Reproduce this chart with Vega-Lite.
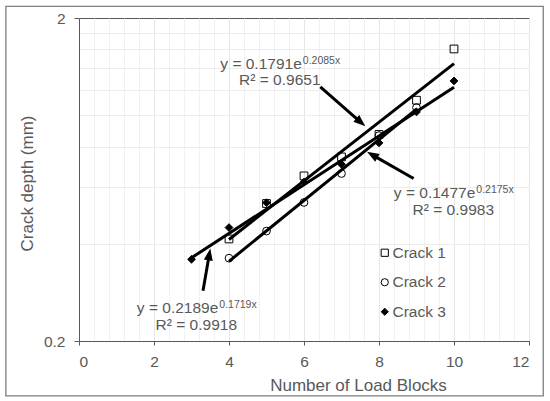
{
  "$schema": "https://vega.github.io/schema/vega-lite/v6.json",
  "width": 450,
  "height": 323,
  "autosize": {"type": "none"},
  "padding": {"left": 79, "top": 18, "right": 21, "bottom": 60},
  "background": "white",
  "config": {
    "font": "Liberation Sans",
    "view": {"stroke": "#595959", "strokeWidth": 1},
    "legend": {
      "orient": "none",
      "legendX": 298,
      "legendY": 227,
      "padding": 0,
      "labelFontSize": 15.5,
      "labelColor": "#595959",
      "labelFont": "Liberation Sans",
      "symbolSize": 52,
      "symbolStrokeWidth": 1,
      "rowPadding": 12.5,
      "labelOffset": 0,
      "title": null
    }
  },
  "datasets": {
    "points": [
      {"series": "Crack 1", "x": 4, "y": 0.414},
      {"series": "Crack 1", "x": 5, "y": 0.533},
      {"series": "Crack 1", "x": 6, "y": 0.649},
      {"series": "Crack 1", "x": 7, "y": 0.743},
      {"series": "Crack 1", "x": 8, "y": 0.872},
      {"series": "Crack 1", "x": 9, "y": 1.113},
      {"series": "Crack 1", "x": 10, "y": 1.604},
      {"series": "Crack 2", "x": 4, "y": 0.361},
      {"series": "Crack 2", "x": 5, "y": 0.438},
      {"series": "Crack 2", "x": 6, "y": 0.537},
      {"series": "Crack 2", "x": 7, "y": 0.66},
      {"series": "Crack 2", "x": 8, "y": 0.865},
      {"series": "Crack 2", "x": 9, "y": 1.056},
      {"series": "Crack 3", "x": 3, "y": 0.358},
      {"series": "Crack 3", "x": 4, "y": 0.449},
      {"series": "Crack 3", "x": 5, "y": 0.536},
      {"series": "Crack 3", "x": 6, "y": 0.621},
      {"series": "Crack 3", "x": 7, "y": 0.705},
      {"series": "Crack 3", "x": 8, "y": 0.821},
      {"series": "Crack 3", "x": 9, "y": 1.024},
      {"series": "Crack 3", "x": 10, "y": 1.277}
    ],
    "trend": [
      {"series": "Crack 1", "x": 4, "y": 0.4125},
      {"series": "Crack 1", "x": 10, "y": 1.445},
      {"series": "Crack 2", "x": 4, "y": 0.353},
      {"series": "Crack 2", "x": 9, "y": 1.044},
      {"series": "Crack 3", "x": 3, "y": 0.362},
      {"series": "Crack 3", "x": 10, "y": 1.22}
    ],
    "arrows": [
      {"id": "a1", "x": 6.435, "y": 1.223, "hx": 7.515, "hy": 0.951},
      {"id": "a2", "x": 8.923, "y": 0.637, "hx": 7.819, "hy": 0.754},
      {"id": "a3", "x": 3.307, "y": 0.286, "hx": 3.475, "hy": 0.371}
    ],
    "labels": [
      {"part": "base", "x": 5.941, "y": 1.395, "text": "y = 0.1791e"},
      {"part": "sup", "x": 5.941, "y": 1.395, "text": "0.2085x"},
      {"part": "r2", "x": 5.355, "y": 1.238, "text": "R² = 0.9651"},
      {"part": "base", "x": 10.568, "y": 0.5527, "text": "y = 0.1477e"},
      {"part": "sup", "x": 10.568, "y": 0.5527, "text": "0.2175x"},
      {"part": "r2", "x": 9.981, "y": 0.4905, "text": "R² = 0.9983"},
      {"part": "base", "x": 3.715, "y": 0.2443, "text": "y = 0.2189e"},
      {"part": "sup", "x": 3.715, "y": 0.2443, "text": "0.1719x"},
      {"part": "r2", "x": 3.128, "y": 0.2162, "text": "R² = 0.9918"}
    ]
  },
  "layer": [
    {
      "data": {"values": [{}]},
      "mark": {"type": "rect", "fillOpacity": 0, "stroke": "#7f7f7f", "strokeWidth": 1.3},
      "encoding": {
        "x": {"datum": -1.95, "type": "quantitative", "axis": null},
        "x2": {"datum": 12.38},
        "y": {"datum": 2.173, "type": "quantitative", "axis": null},
        "y2": {"datum": 0.1352}
      }
    },
    {
      "data": {"name": "points"},
      "mark": {"type": "point", "strokeWidth": 1, "size": 60, "opacity": 1},
      "encoding": {
        "x": {
          "field": "x", "type": "quantitative",
          "scale": {"domain": [0, 12], "nice": false},
          "axis": {
            "values": [0, 2, 4, 6, 8, 10, 12],
            "grid": true, "gridColor": "#e6e6e6",
            "domainColor": "#595959", "tickColor": "#595959", "tickSize": 4,
            "labelFontSize": 15.5, "labelColor": "#595959", "labelPadding": 9,
            "title": "Number of Load Blocks", "titleFontSize": 17, "titleFontWeight": "normal",
            "titleColor": "#595959", "titleX": 279, "titleY": 49,
            "titleBaseline": "alphabetic", "titleAlign": "center"
          }
        },
        "y": {
          "field": "y", "type": "quantitative",
          "scale": {"type": "log", "domain": [0.2, 2], "nice": false},
          "axis": {
            "values": [0.2, 2], "format": "~g", "grid": false,
            "domainColor": "#595959", "tickColor": "#595959", "tickSize": 5,
            "labelFontSize": 15.5, "labelColor": "#595959", "labelPadding": 9,
            "title": "Crack depth (mm)", "titleFontSize": 17, "titleFontWeight": "normal",
            "titleColor": "#595959", "titleX": -52, "titleY": 165,
            "titleBaseline": "middle", "titleAlign": "center", "titleAngle": -90
          }
        },
        "shape": {
          "field": "series", "type": "nominal",
          "scale": {"domain": ["Crack 1", "Crack 2", "Crack 3"], "range": ["square", "circle", "diamond"]},
          "legend": {"title": null}
        },
        "fill": {
          "field": "series", "type": "nominal",
          "scale": {"domain": ["Crack 1", "Crack 2", "Crack 3"], "range": ["transparent", "transparent", "black"]},
          "legend": {"title": null}
        },
        "stroke": {
          "field": "series", "type": "nominal",
          "scale": {"domain": ["Crack 1", "Crack 2", "Crack 3"], "range": ["black", "black", "black"]},
          "legend": {"title": null}
        }
      }
    },
    {
      "data": {"name": "trend"},
      "mark": {"type": "line", "color": "black", "strokeWidth": 3},
      "encoding": {
        "x": {
          "field": "x", "type": "quantitative",
          "axis": {
            "orient": "top",
            "values": [0.4, 0.8, 1.2, 1.6, 2.4, 2.8, 3.2, 3.6, 4.4, 4.8, 5.2, 5.6, 6.4, 6.8, 7.2, 7.6, 8.4, 8.8, 9.2, 9.6, 10.4, 10.8, 11.2, 11.6],
            "grid": true, "gridColor": "#f1f1f1",
            "labels": false, "ticks": false, "domain": false, "title": null
          }
        },
        "y": {
          "field": "y", "type": "quantitative",
          "axis": {
            "orient": "right",
            "values": [0.4, 0.6, 0.8, 1.0, 1.2, 1.4, 1.6, 1.8],
            "grid": true, "gridColor": "#ececec",
            "labels": false, "ticks": false, "domain": false, "title": null
          }
        },
        "detail": {"field": "series", "type": "nominal"}
      }
    },
    {
      "data": {"name": "arrows"},
      "mark": {"type": "rule", "color": "black", "strokeWidth": 3},
      "encoding": {
        "x": {"field": "x", "type": "quantitative", "axis": null},
        "y": {"field": "y", "type": "quantitative", "axis": null},
        "x2": {"field": "hx"},
        "y2": {"field": "hy"}
      }
    },
    {
      "data": {"name": "arrows"},
      "transform": [{"filter": "datum.id == 'a1'"}],
      "mark": {"type": "point", "shape": "M0,-1L0.75,1L-0.75,1Z", "filled": true, "color": "black", "size": 144, "angle": 131.2, "opacity": 1},
      "encoding": {
        "x": {"field": "hx", "type": "quantitative", "axis": null},
        "y": {"field": "hy", "type": "quantitative", "axis": null}
      }
    },
    {
      "data": {"name": "arrows"},
      "transform": [{"filter": "datum.id == 'a2'"}],
      "mark": {"type": "point", "shape": "M0,-1L0.75,1L-0.75,1Z", "filled": true, "color": "black", "size": 144, "angle": 299.7, "opacity": 1},
      "encoding": {
        "x": {"field": "hx", "type": "quantitative", "axis": null},
        "y": {"field": "hy", "type": "quantitative", "axis": null}
      }
    },
    {
      "data": {"name": "arrows"},
      "transform": [{"filter": "datum.id == 'a3'"}],
      "mark": {"type": "point", "shape": "M0,-1L0.75,1L-0.75,1Z", "filled": true, "color": "black", "size": 144, "angle": 9.8, "opacity": 1},
      "encoding": {
        "x": {"field": "hx", "type": "quantitative", "axis": null},
        "y": {"field": "hy", "type": "quantitative", "axis": null}
      }
    },
    {
      "data": {"name": "labels"},
      "transform": [{"filter": "datum.part == 'base'"}],
      "mark": {"type": "text", "align": "right", "baseline": "alphabetic", "fontSize": 15.5, "color": "#595959"},
      "encoding": {
        "x": {"field": "x", "type": "quantitative", "axis": null},
        "y": {"field": "y", "type": "quantitative", "axis": null},
        "text": {"field": "text"}
      }
    },
    {
      "data": {"name": "labels"},
      "transform": [{"filter": "datum.part == 'sup'"}],
      "mark": {"type": "text", "align": "left", "baseline": "alphabetic", "fontSize": 10.5, "dx": 1, "dy": -5, "color": "#595959"},
      "encoding": {
        "x": {"field": "x", "type": "quantitative", "axis": null},
        "y": {"field": "y", "type": "quantitative", "axis": null},
        "text": {"field": "text"}
      }
    },
    {
      "data": {"name": "labels"},
      "transform": [{"filter": "datum.part == 'r2'"}],
      "mark": {"type": "text", "align": "center", "baseline": "alphabetic", "fontSize": 15.5, "color": "#595959"},
      "encoding": {
        "x": {"field": "x", "type": "quantitative", "axis": null},
        "y": {"field": "y", "type": "quantitative", "axis": null},
        "text": {"field": "text"}
      }
    }
  ],
  "resolve": {"axis": {"x": "independent", "y": "independent"}}
}
